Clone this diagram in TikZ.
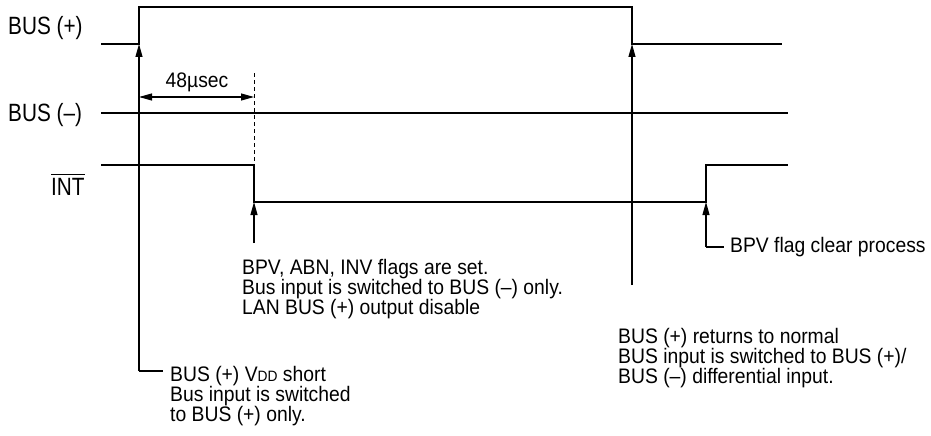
\documentclass[tikz,border=0pt]{standalone}
\usepackage{fontspec}
\setmainfont[FakeStretch=0.92]{Liberation Sans}
\newfontfamily\lblfont[FakeStretch=0.83]{Liberation Sans}
\usetikzlibrary{arrows.meta}
\begin{document}
\begin{tikzpicture}[x=1pt,y=-1pt,
  sig/.style={line width=1.3pt,line join=miter},
  lead/.style={line width=1.1pt},
  tip/.style={-{Triangle[length=13pt,width=7pt]}},
  dimarr/.style={line width=1.1pt,{Triangle[length=13pt,width=7pt]}-{Triangle[length=13pt,width=7pt]}},
  lbl/.style={anchor=base west,inner sep=0pt,font=\lblfont\fontsize{25}{26}\selectfont},
  note/.style={anchor=base west,inner sep=0pt,align=left,font=\fontsize{21}{20}\selectfont}]
\useasboundingbox (0,0) rectangle (931,436);
% coordinates of the waveforms
\coordinate (p0) at (101,44);
\coordinate (p1) at (139,44);
\coordinate (p2) at (139,7);
\coordinate (p3) at (632,7);
\coordinate (p4) at (632,44);
\coordinate (p5) at (782,44);
\coordinate (m0) at (101,113);
\coordinate (m1) at (788,113);
\coordinate (i0) at (101,165);
\coordinate (i1) at (254,165);
\coordinate (i2) at (254,202);
\coordinate (i3) at (706,202);
\coordinate (i4) at (706,165);
\coordinate (i5) at (788,165);
% waveforms
\draw[sig] (p0) -- (p1) -- (p2) -- (p3) -- (p4) -- (p5);
\draw[sig] (m0) -- (m1);
\draw[sig] (i0) -- (i1) -- (i2) -- (i3) -- (i4) -- (i5);
% labels
\node[lbl] (lbp) at (8,35) {BUS (+)};
\node[lbl] (lbm) at (8,121) {BUS (–)};
\node[lbl] (lint) at (51,195) {INT};
\draw[line width=1.1pt] (lint.north west) ++(0,-3) coordinate (o1) -- (o1 -| lint.north east);
% dimension
\coordinate (d0) at (254,73);
\draw[line width=0.9pt,dash pattern=on 4pt off 3pt] (d0) -- (i1);
\coordinate (da) at (139,97);
\coordinate (db) at (254,97);
\draw[dimarr] (da) -- (db);
\node[note,anchor=base] (dt) at (197,87) {48µsec};
% leader 1
\coordinate (c1) at (139,371);
\coordinate (c1e) at (163,371);
\draw[lead,tip] (c1) -- (p1);
\draw[lead] (c1) -- (c1e);
\node[note] (n1) at (170,421) {BUS (+) V{\fontsize{15}{15}\selectfont DD} short\\Bus input is switched\\to BUS (+) only.};
% leader 2
\coordinate (c2) at (254,243);
\draw[lead,tip] (c2) -- (i2);
\node[note] (n2) at (242,314) {BPV, ABN, INV flags are set.\\Bus input is switched to BUS (–) only.\\LAN BUS (+) output disable};
% leader 3
\coordinate (c3) at (632,285);
\draw[lead,tip] (c3) -- (p4);
\node[note] (n3) at (618,383) {BUS (+) returns to normal\\BUS input is switched to BUS (+)/\\BUS (–) differential input.};
% leader 4
\coordinate (c4) at (706,247);
\coordinate (c4e) at (724,247);
\draw[lead,tip] (c4) -- (i3);
\draw[lead] (c4) -- (c4e);
\node[note] (n4) at (730,252) {BPV flag clear process};
\end{tikzpicture}
\end{document}
